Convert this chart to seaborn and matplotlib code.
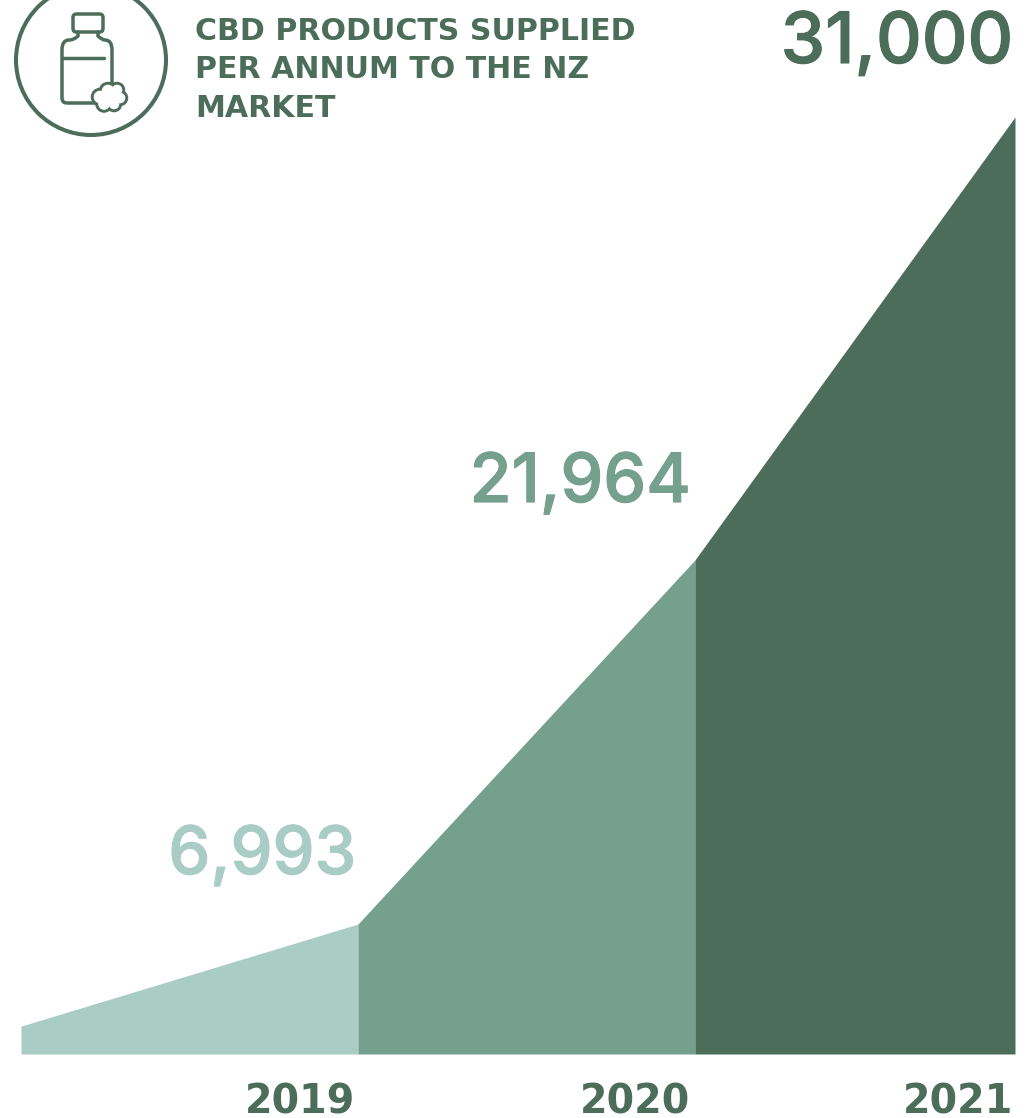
import numpy as np
import pandas as pd
import matplotlib
matplotlib.use("Agg")
import matplotlib.pyplot as plt
import matplotlib.patheffects as pe
from matplotlib.patches import Circle, FancyBboxPatch, PathPatch
from matplotlib.path import Path
from matplotlib.scale import FuncScale
import seaborn as sns

# Market data
years = ["2019", "2020", "2021"]
supplied = [6993, 21964, 31000]
opening_level = 1500
value_labels = ["6,993", "21,964", "31,000"]
title_lines = ["CBD PRODUCTS SUPPLIED", "PER ANNUM TO THE NZ", "MARKET"]

# Band colours, lightest for the oldest year
band_colors = ["#A9CCC4", "#75A08D", "#4B6D59"]
label_colors = ["#A9CCC4", "#75A08D", "#4B6D59"]
ink = "#4B6D59"

# Schematic vertical axis: growth bands are drawn to a stretched, non-linear scale
scale_values = [0, 6993, 21964, 31000]
scale_heights = [0, 0.1387, 0.5272, 1.0]

W, H = 1032, 1118
sns.set_theme(style="white")
plt.rcParams["font.family"] = ["Inter", "DejaVu Sans"]

fig = plt.figure(figsize=(W / 100, H / 100), dpi=100, facecolor="white")
left, right, top, bottom = 21, 1015, 117, 1054
ax = fig.add_axes([left / W, 1 - bottom / H, (right - left) / W, (bottom - top) / H])

ax.set_yscale(FuncScale(ax.yaxis, (
    lambda v: np.interp(v, scale_values, scale_heights),
    lambda h: np.interp(h, scale_heights, scale_values),
)))

# Each band runs from the previous year's level up to its own
edges = [0.0, 1.0, 2.0, 2.95]
levels = [opening_level] + supplied
frame = pd.DataFrame({
    "pos": [p for i in range(3) for p in (edges[i], edges[i + 1])],
    "value": [v for i in range(3) for v in (levels[i], levels[i + 1])],
    "year": [y for y in years for _ in (0, 1)],
})
sns.lineplot(data=frame, x="pos", y="value", hue="year", palette=band_colors,
             legend=False, linewidth=0, ax=ax, errorbar=None)
for i, year in enumerate(years):
    band = frame[frame["year"] == year]
    ax.fill_between(band["pos"], 0, band["value"], color=band_colors[i], linewidth=0)

ax.set_xlim(edges[0], edges[-1])
ax.set_ylim(0, 31000)
ax.set_xlabel("")
ax.set_ylabel("")
ax.set_yticks([])
ax.set_xticks([])
sns.despine(ax=ax, left=True, bottom=True, top=True, right=True)
ax.patch.set_alpha(0)

# Year captions sit below each band's right edge
year_offsets = [-3, -5, -2]
for i, year in enumerate(years):
    ax.annotate(year, (edges[i + 1], 0), xytext=(year_offsets[i] * 0.72, -59 * 0.72),
                textcoords="offset points", ha="right", va="baseline",
                fontsize=28.5, fontweight="bold", family="DejaVu Sans", color=ink,
                annotation_clip=False)

# Figures above the top corner of each band
label_shift = [(-2, 50), (-4, 58), (-2, 54)]
label_sizes = [48, 49, 51]
for i, text in enumerate(value_labels):
    dx, dy = label_shift[i]
    ax.annotate(text, (edges[i + 1], supplied[i]), xytext=(dx * 0.72, dy * 0.72),
                textcoords="offset points", ha="right", va="baseline",
                fontsize=label_sizes[i], fontweight="medium", color=label_colors[i],
                annotation_clip=False,
                path_effects=[pe.withStroke(linewidth=0.8, foreground=label_colors[i])])

# Overlay in pixel units for the heading and bottle badge
ov = fig.add_axes([0, 0, 1, 1])
ov.set_xlim(0, W)
ov.set_ylim(H, 0)
ov.axis("off")
ov.patch.set_alpha(0)

for baseline, line in zip([40, 78, 117], title_lines):
    ov.text(195, baseline, line, fontsize=21.6, fontweight="bold", family="DejaVu Sans",
            color=ink, ha="left", va="baseline")

line_w = 2.5
stroke = dict(fill=False, edgecolor=ink, linewidth=line_w)
ov.add_patch(Circle((91, 60), 75, linewidth=2.9, edgecolor=ink, fill=False))
ov.add_patch(FancyBboxPatch((73, 14), 30, 18, boxstyle="round,pad=0,rounding_size=3.5", **stroke))

bottle = Path(
    [(78, 32), (78, 36), (74, 40), (69, 40), (62, 40), (62, 50), (62, 98),
     (62, 103), (67, 103), (95, 103)],
    [Path.MOVETO, Path.LINETO, Path.CURVE3, Path.CURVE3, Path.CURVE3, Path.CURVE3, Path.LINETO,
     Path.CURVE3, Path.CURVE3, Path.LINETO])
shoulder = Path(
    [(98, 32), (98, 36), (102, 40), (105, 40), (112, 40), (112, 50), (112, 84)],
    [Path.MOVETO, Path.LINETO, Path.CURVE3, Path.CURVE3, Path.CURVE3, Path.CURVE3, Path.LINETO])
ov.add_patch(PathPatch(bottle, fill=False, edgecolor=ink, linewidth=line_w, capstyle="round"))
ov.add_patch(PathPatch(shoulder, fill=False, edgecolor=ink, linewidth=line_w, capstyle="round"))
ov.plot([63, 104], [58, 58], color=ink, linewidth=line_w, solid_capstyle="round")

# Cloud of scalloped circles, filled white so it hides the bottle corner
puffs = [(100, 97, 7.5), (108, 91, 7.5), (117, 90, 6.5), (120, 98, 6.5), (114, 104, 6.5), (104, 104, 7)]
for cx, cy, r in puffs:
    ov.add_patch(Circle((cx, cy), r, edgecolor=ink, facecolor="white", linewidth=line_w, zorder=3))
for cx, cy, r in puffs:
    ov.add_patch(Circle((cx, cy), r - 1.2, edgecolor="none", facecolor="white", zorder=4))
ov.add_patch(Circle((110, 97), 8, edgecolor="none", facecolor="white", zorder=4))

fig.savefig("out.png", dpi=100, facecolor="white")
